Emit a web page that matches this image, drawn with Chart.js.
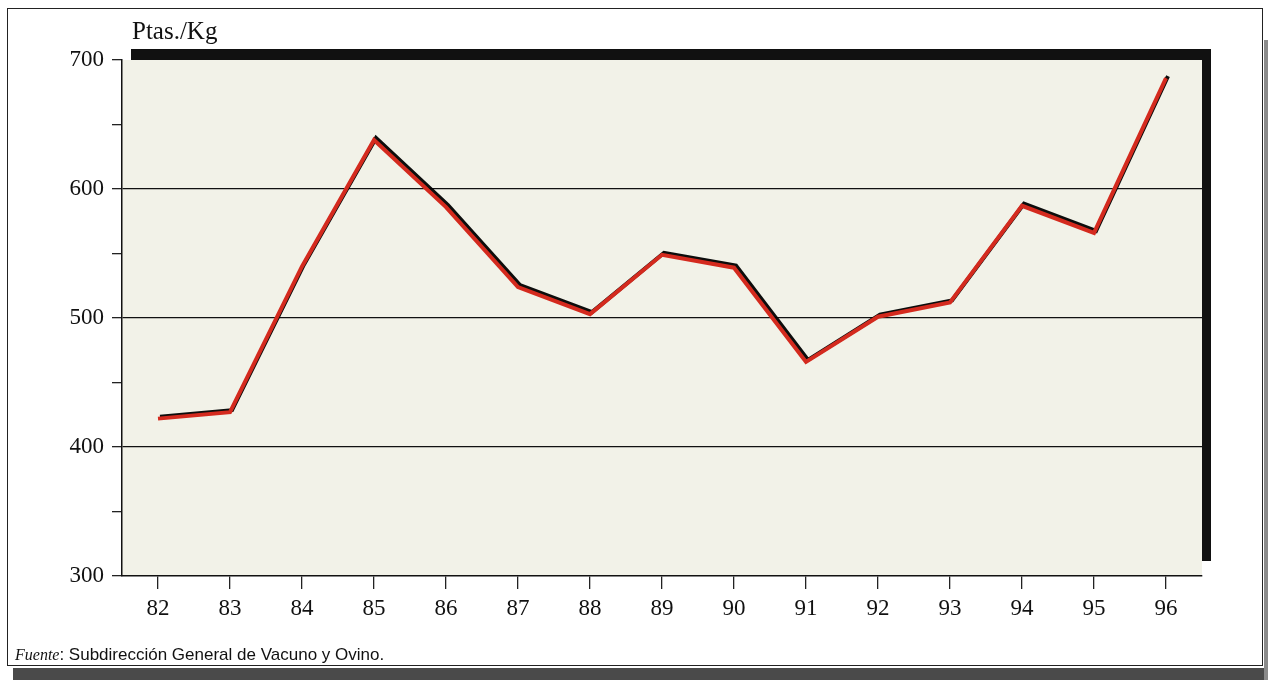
<!DOCTYPE html>
<html>
<head>
<meta charset="utf-8">
<script src="https://cdn.jsdelivr.net/npm/chart.js@4/dist/chart.umd.min.js"></script>
<style>
  html, body { margin: 0; padding: 0; background: #fff; overflow: hidden; }
  #chartf1 { display: block; width: 1268px; height: 680px; }
</style>
</head>
<body>
<canvas id="chartf1" width="1268" height="680"></canvas>
<script>
// Precio medio (Ptas./Kg), años 82-96
let years = ['82', '83', '84', '85', '86', '87', '88', '89', '90', '91', '92', '93', '94', '95', '96'];
let prices = [422, 427, 540, 638, 586, 524, 503, 549, 539, 466, 501, 512, 587, 566, 686];
let y_labels = [300, 400, 500, 600, 700];
let grid_values = [400, 500, 600];

let unit_label = 'Ptas./Kg';
let source_label = 'Fuente';
let source_text = ': Subdirección General de Vacuno y Ovino.';

let serif = '"Liberation Serif", "DejaVu Serif", serif';

// frame, plot shadow and texts
const framePlugin = {
    id: 'frame',
    beforeDraw: (chart) => {
        let ctx = chart.ctx;
        let a = chart.chartArea;
        ctx.save();
        ctx.fillStyle = '#fff';
        ctx.fillRect(0, 0, chart.width, chart.height);
        // outer shadow
        ctx.fillStyle = '#4a4a4a';
        ctx.fillRect(13, 668, chart.width - 13, 12);
        ctx.fillStyle = '#8a8a8a';
        ctx.fillRect(1264, 40, 4, 640);
        // outer frame
        ctx.strokeStyle = '#222';
        ctx.lineWidth = 1;
        ctx.strokeRect(7.5, 8.5, 1255, 657);
        // plot shadow
        ctx.fillStyle = '#111';
        ctx.fillRect(a.left + 9, a.top - 11, a.right - a.left, a.bottom - a.top - 4);
        ctx.fillStyle = '#f2f2e8';
        ctx.fillRect(a.left, a.top, a.right - a.left, a.bottom - a.top);
        // texts
        ctx.fillStyle = '#111';
        ctx.font = '25px ' + serif;
        ctx.textBaseline = 'alphabetic';
        ctx.fillText(unit_label, 132, 39);
        ctx.font = 'italic 16px "Liberation Serif", serif';
        ctx.fillText(source_label, 15, 660);
        let w = ctx.measureText(source_label).width;
        ctx.font = '17px "Liberation Sans", Arial, sans-serif';
        ctx.fillText(source_text, 15 + w, 660);
        ctx.restore();
    },
    beforeDatasetDraw: (chart) => {
        let ctx = chart.ctx;
        ctx.save();
        ctx.shadowColor = 'rgba(0,0,0,0.95)';
        ctx.shadowBlur = 0;
        ctx.shadowOffsetX = 2;
        ctx.shadowOffsetY = -2;
    },
    afterDatasetDraw: (chart) => {
        chart.ctx.restore();
    }
};

let chart_canvas1 = document.getElementById('chartf1');

let chart = new Chart(chart_canvas1, {
    type: 'line',
    data: {
        labels: years,
        datasets: [{
            data: prices,
            borderColor: '#d42a1e',
            borderWidth: 4,
            pointRadius: 0,
            tension: 0,
            borderJoinStyle: 'miter'
        }]
    },
    options: {
        responsive: false,
        animation: false,
        devicePixelRatio: 1,
        layout: { padding: { top: 60, right: 66, bottom: 54, left: 0 } },
        plugins: { legend: { display: false }, tooltip: { enabled: false } },
        scales: {
            x: {
                type: 'category',
                offset: true,
                afterFit: (s) => { s.height = 50; },
                grid: { display: true, drawOnChartArea: false, drawTicks: true, tickLength: 13, color: '#222', lineWidth: 1.3, offset: false },
                border: { display: true, color: '#111', width: 1.5 },
                ticks: { color: '#111', font: { family: serif, size: 23 }, padding: 6, maxRotation: 0, autoSkip: false }
            },
            y: {
                min: 300,
                max: 700,
                afterFit: (s) => { s.width = 122; },
                afterBuildTicks: (s) => {
                    let t = [];
                    for (let v = 300; v <= 700; v += 50) t.push({ value: v });
                    s.ticks = t;
                },
                grid: {
                    drawTicks: true,
                    tickLength: 10,
                    tickColor: '#222',
                    lineWidth: 1.3,
                    color: (c) => grid_values.includes(c.tick.value) ? '#111' : 'rgba(0,0,0,0)'
                },
                border: { display: true, color: '#111', width: 1.5 },
                ticks: {
                    color: '#111',
                    font: { family: serif, size: 23 },
                    padding: 8,
                    autoSkip: false,
                    callback: (v) => y_labels.includes(v) ? String(v) : ''
                }
            }
        }
    },
    plugins: [framePlugin]
});
</script>
</body>
</html>
